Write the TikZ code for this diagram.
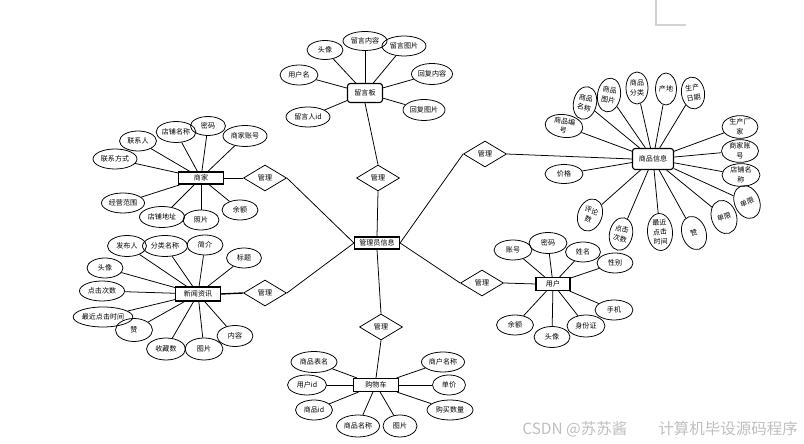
\documentclass[tikz,border=0pt]{standalone}
\usepackage{fontspec}
\setmainfont{Noto Sans CJK SC}
\usetikzlibrary{shapes.geometric}

\begin{document}
\begin{tikzpicture}[x=0.025cm,y=-0.025cm,
    font=\fontsize{5}{5.6}\selectfont,
    ent/.style={draw,line width=0.8pt,inner sep=0pt,minimum width=45*0.025cm,minimum height=12*0.025cm},
    prop/.style 2 args={draw,line width=0.55pt,ellipse,inner sep=0pt,align=center,minimum width=#1*0.025cm,minimum height=#2*0.025cm},
    wide/.style={font=\fontsize{5}{6.8}\selectfont},
    rel/.style={draw,line width=0.55pt,diamond,aspect=1.65,inner sep=0pt,minimum width=43*0.025cm,minimum height=26*0.025cm},
    link/.style={line width=0.55pt}]
    \useasboundingbox (0,0) rectangle (804,444);
    \draw[gray!35,line width=0.8pt] (656,0) -- (656,25) -- (686,25);

    % entities
    \node[ent] (admin) at (377,243) {管理员信息};
    \node[ent,rounded corners=2pt,minimum width=35*0.025cm,minimum height=19*0.025cm] (msg) at (365,93) {留言板};
    \node[ent] (seller) at (201,178) {商家};
    \node[ent,minimum height=14*0.025cm] (news) at (198,294) {新闻资讯};
    \node[ent,minimum height=13*0.025cm] (cart) at (376,385) {购物车};
    \node[ent,rounded corners=2pt,minimum width=41*0.025cm,minimum height=21*0.025cm] (goods) at (653,159) {商品信息};
    \node[ent,minimum width=34*0.025cm,minimum height=13*0.025cm] (user) at (553,284) {用户};

    % relations
    \node[rel] (r1) at (378,178) {管理};
    \node[rel] (r2) at (485,154) {管理};
    \node[rel] (r3) at (482,283) {管理};
    \node[rel] (r4) at (381,327) {管理};
    \node[rel] (r5) at (265,178) {管理};
    \node[rel] (r6) at (265,293) {管理};

    \draw[link] (admin.north) -- (r1.south);
    \draw[link] (r1.north) -- (msg.south);
    \draw[link] (admin.west) -- (r5.east);
    \draw[link] (r5.west) -- (seller.east);
    \draw[link] (admin.west) -- (r6.east);
    \draw[line width=1pt] (r6.west) -- (news.east);
    \draw[link] (admin.east) -- (r2.west);
    \draw[link] (r2.east) -- (goods.west);
    \draw[link] (admin.east) -- (r3.west);
    \draw[link] (r3.east) -- (user.west);
    \draw[link] (admin.south) -- (r4.north);
    \draw[link] (r4.south) -- (cart.north);

    % 留言板
    \node[prop={36}{19}] (m1) at (325,50) {头像};
    \node[prop={44}{19}] (m2) at (365,41) {留言内容};
    \node[prop={44}{20}] (m3) at (404,46) {留言图片};
    \node[prop={38}{20}] (m4) at (299,75) {用户名};
    \node[prop={41}{21}] (m5) at (432,74) {回复内容};
    \node[prop={42}{21}] (m6) at (424,110) {回复图片};
    \node[prop={44}{20}] (m7) at (308,117) {留言人id};
    \foreach \i in {1,...,7} \draw[link] (msg) -- (m\i);

    % 商家
    \node[prop={37}{20}] (s1) at (138,141) {联系人};
    \node[prop={38}{21}] (s2) at (176,132) {店铺名称};
    \node[prop={35}{19}] (s3) at (208,126) {密码};
    \node[prop={44}{21}] (s4) at (245,136) {商家账号};
    \node[prop={44}{20}] (s5) at (115,159) {联系方式};
    \node[prop={43}{20}] (s6) at (123,203) {经营范围};
    \node[prop={45}{21}] (s7) at (162,217) {店铺地址};
    \node[prop={36}{20}] (s8) at (201,220) {照片};
    \node[prop={36}{20}] (s9) at (240,210) {余额};
    \foreach \i in {1,...,9} \draw[link] (seller) -- (s\i);

    % 新闻资讯
    \node[prop={39}{21}] (n1) at (127,246) {发布人};
    \node[prop={45}{21}] (n2) at (165,246) {分类名称};
    \node[prop={36}{20}] (n3) at (205,245) {简介};
    \node[prop={35}{20}] (n4) at (244,258) {标题};
    \node[prop={36}{20}] (n5) at (105,268) {头像};
    \node[prop={45}{20}] (n6) at (102,291) {点击次数};
    \node[prop={57}{20}] (n7) at (103,317) {最近点击时间};
    \node[prop={37}{23}] (n8) at (134,330) {赞};
    \node[prop={39}{22}] (n9) at (166,349) {收藏数};
    \node[prop={38}{22}] (n10) at (204,349) {图片};
    \node[prop={36}{21}] (n11) at (235,336) {内容};
    \foreach \i in {1,...,11} \draw[link] (news) -- (n\i);

    % 购物车
    \node[prop={46}{21}] (c1) at (314,362) {商品表名};
    \node[prop={39}{20}] (c2) at (307,385) {用户id};
    \node[prop={37}{20}] (c3) at (314,410) {商品id};
    \node[prop={43}{22}] (c4) at (358,426) {商品名称};
    \node[prop={34}{22}] (c5) at (400,426) {图片};
    \node[prop={43}{20}] (c6) at (443,362) {商户名称};
    \node[prop={33}{20}] (c7) at (449,385) {单价};
    \node[prop={46}{20}] (c8) at (450,410) {购买数量};
    \foreach \i in {1,...,8} \draw[link] (cart) -- (c\i);

    % 用户
    \node[prop={38}{20}] (u1) at (513,250) {账号};
    \node[prop={38}{21}] (u2) at (548,243) {密码};
    \node[prop={35}{20}] (u3) at (583,252) {姓名};
    \node[prop={36}{20}] (u4) at (615,263) {性别};
    \node[prop={38}{20}] (u5) at (614,310) {手机};
    \node[prop={38}{22}] (u6) at (586,326) {身份证};
    \node[prop={36}{21}] (u7) at (552,337) {头像};
    \node[prop={37}{20}] (u8) at (515,325) {余额};
    \foreach \i in {1,...,8} \draw[link] (user) -- (u\i);

    % 商品信息
    \node[prop={38}{22},wide,rotate=-8] (g1) at (564,126) {商品编\\号};
    \node[prop={23}{33},wide,rotate=-12] (g2) at (585,103) {商品\\名称};
    \node[prop={23}{34},wide,rotate=-9] (g3) at (609,95) {商品\\图片};
    \node[prop={22}{32},wide] (g4) at (637,88) {商品\\分类};
    \node[prop={21}{32}] (g5) at (666,89) {产地};
    \node[prop={23}{32},wide,rotate=9] (g6) at (693,93) {生产\\日期};
    \node[prop={36}{21},wide] (g7) at (740,127) {生产厂\\家};
    \node[prop={37}{21},wide] (g8) at (740,151) {商家账\\号};
    \node[prop={38}{21},wide] (g9) at (741,175) {店铺名\\称};
    \node[prop={38}{19}] (g10) at (564,174) {价格};
    \node[prop={24}{33},wide,rotate=-20] (g11) at (590,215) {评论\\数};
    \node[prop={23}{33},wide,rotate=-12] (g12) at (621,234) {点击\\次数};
    \node[prop={25}{37},wide,rotate=4] (g13) at (660,232) {最近\\点击\\时间};
    \node[prop={24}{34},rotate=18] (g14) at (694,233) {赞};
    \node[prop={25}{34},rotate=18] (g15) at (724,217) {单限};
    \node[prop={25}{34},rotate=22] (g16) at (747,202) {单限};
    \foreach \i in {1,...,16} \draw[link] (goods) -- (g\i);

    % watermark
    \node[text=gray!50,font=\fontsize{11}{12}\selectfont,anchor=west,inner sep=0pt] (wm1) at (522,429) {CSDN @苏苏酱};
    \node[text=gray!50,font=\fontsize{11}{12}\selectfont,anchor=east,inner sep=0pt] (wm2) at (798,429) {计算机毕设源码程序};
\end{tikzpicture}
\end{document}
